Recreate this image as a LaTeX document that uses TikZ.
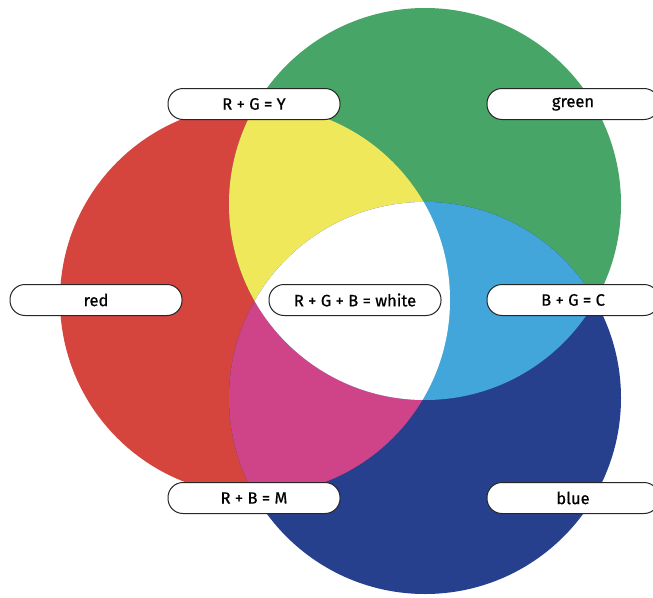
\documentclass[tikz,border=0pt]{standalone}
\usepackage{fontspec}
\newfontfamily\tagfont{Fira Sans}[FakeBold=0.7]

\definecolor{lightR}{HTML}{D6443E}
\definecolor{lightG}{HTML}{47A567}
\definecolor{lightB}{HTML}{26408E}
\definecolor{mixY}{HTML}{EEE85A}
\definecolor{mixC}{HTML}{42A6DB}
\definecolor{mixM}{HTML}{CF4489}

% the three light discs
\newcommand\discR{(255,300) circle[radius=195pt]}
\newcommand\discG{(425,204) circle[radius=196pt]}
\newcommand\discB{(425,398) circle[radius=196pt]}

\tikzset{
	tag/.style={draw=black!85, line width=1pt, fill=white, rounded corners=15pt,
		minimum width=172pt, minimum height=31pt, inner sep=0pt,
		font=\tagfont\fontsize{16.5}{18}\selectfont}
}

\begin{document}
\begin{tikzpicture}[x=1pt, y=-1pt]
	\useasboundingbox (0,0) rectangle (653,597);
	\fill[lightR] \discR;
	\fill[lightG] \discG;
	\fill[lightB] \discB;
	% pairwise mixtures
	\begin{scope}
		\clip \discR;
		\fill[mixY] \discG;
		\fill[mixM] \discB;
	\end{scope}
	\begin{scope}
		\clip \discG;
		\fill[mixC] \discB;
	\end{scope}
	% all three
	\begin{scope}
		\clip \discR;
		\clip \discG;
		\fill[white] \discB;
	\end{scope}
	% labels
	\node[tag] (rg)    at (254,104) {R + G = Y};
	\node[tag] (green) at (573,104) {green};
	\node[tag] (red)   at (96,300)  {red};
	\node[tag] (rgb)   at (355,300) {R + G + B = white};
	\node[tag] (bg)    at (573,300) {B + G = C};
	\node[tag] (rb)    at (254,498) {R + B = M};
	\node[tag] (blue)  at (573,498) {blue};
\end{tikzpicture}
\end{document}
